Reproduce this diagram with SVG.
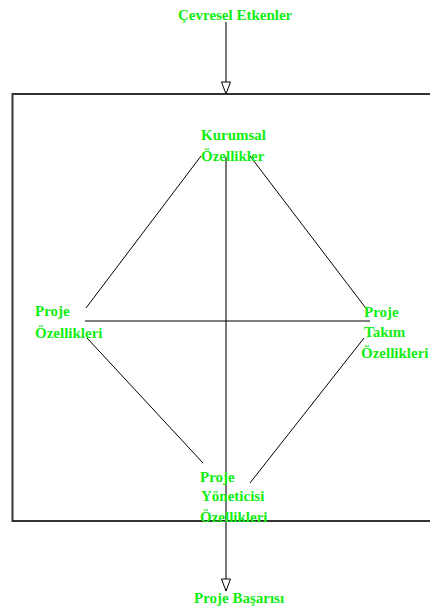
<svg xmlns="http://www.w3.org/2000/svg" width="430" height="608" viewBox="0 0 430 608">
<style>
text{font-family:"Liberation Serif","Times New Roman",serif;font-weight:bold;font-size:15px;fill:#11ee11}
.d{stroke:#000;stroke-width:1;fill:none}
.v{stroke:#777;stroke-width:2;fill:none}
</style>
<defs>
<marker id="ah" markerWidth="14" markerHeight="10" refX="13" refY="5" orient="auto" markerUnits="userSpaceOnUse" viewBox="0 0 14 10">
<path d="M1,0.5 L1,9.5 L13,5 Z" fill="#fff" stroke="#000" stroke-width="1"/>
</marker>
</defs>
<rect x="0" y="0" width="430" height="608" fill="#fff"/>
<g id="box"><path d="M432,94 H12.5 V521 H432" fill="none" stroke="#333" stroke-width="2"/></g>
<g id="connectors">
<line class="v" x1="226" y1="22" x2="226" y2="94" marker-end="url(#ah)"/>
<line class="v" x1="226" y1="157" x2="226" y2="591" marker-end="url(#ah)"/>
<line class="d" x1="85" y1="321" x2="370" y2="321"/>
<line class="d" x1="201" y1="156" x2="86" y2="308"/>
<line class="d" x1="250" y1="156" x2="368" y2="311"/>
<line class="d" x1="87" y1="338" x2="203" y2="463"/>
<line class="d" x1="250" y1="483" x2="364" y2="338"/>
</g>
<g id="cevresel"><text x="178" y="20">Çevresel Etkenler</text></g>
<g id="kurumsal"><text x="201" y="140">Kurumsal</text><text x="201" y="161">Özellikler</text></g>
<g id="proje"><text x="35" y="316">Proje</text><text x="35" y="338">Özellikleri</text></g>
<g id="takim"><text x="364" y="317">Proje</text><text x="364" y="337">Takım</text><text x="361" y="358">Özellikleri</text></g>
<g id="yonetici"><text x="200" y="482">Proje</text><text x="201" y="501">Yöneticisi</text><text x="200" y="522">Özellikleri</text></g>
<g id="basari"><text x="194" y="603">Proje Başarısı</text></g>
</svg>
